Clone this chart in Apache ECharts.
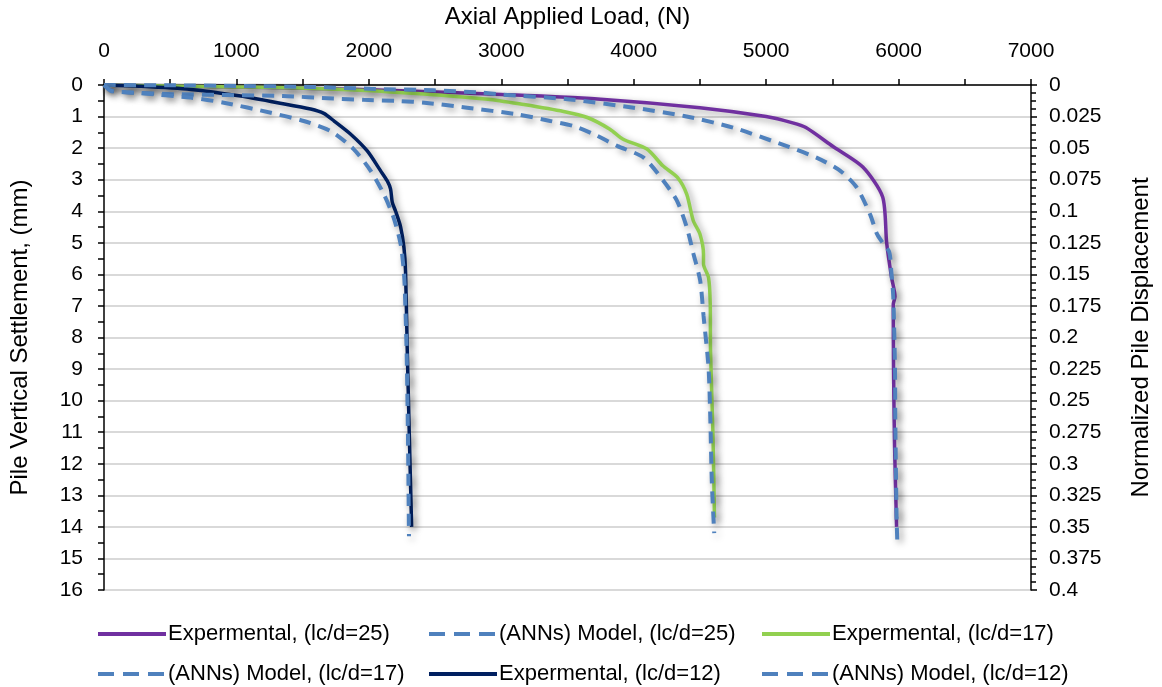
<!DOCTYPE html>
<html>
<head>
<meta charset="utf-8">
<script src="https://cdn.jsdelivr.net/npm/echarts@6/dist/echarts.min.js"></script>
<style>
html,body{margin:0;padding:0;background:#fff;}
#chart{width:1162px;height:687px;}
</style>
</head>
<body>
<div id="chart"></div>
<script>
// Data: [axial load (N), settlement (mm)]
const exp25 = [[0,0],[500,0.03],[1000,0.06],[1500,0.1],[2240,0.18],[3000,0.3],[3750,0.45],[4500,0.72],[5000,1.0],[5200,1.2],[5300,1.35],[5505,1.95],[5730,2.6],[5880,3.55],[5910,5.0],[5947,6.1],[5973,6.7],[5960,6.95],[5962,9.0],[5970,11.5],[5985,14.0]];
const ann25 = [[0,0],[500,0.01],[1000,0.03],[1560,0.06],[2010,0.12],[2490,0.17],[2840,0.24],[3000,0.3],[3500,0.45],[4000,0.72],[4380,0.98],[4750,1.35],[5130,1.9],[5380,2.3],[5560,2.72],[5685,3.25],[5785,4.1],[5835,4.7],[5880,5.0],[5930,5.3],[5945,5.9],[5960,6.7],[5973,9.0],[5975,10.5],[5985,13.7],[5990,14.4]];
const exp17 = [[0,0],[500,0.03],[1000,0.06],[1410,0.09],[2160,0.22],[2900,0.45],[3170,0.62],[3470,0.84],[3650,1.03],[3820,1.4],[3920,1.72],[4100,2.03],[4220,2.56],[4330,2.93],[4400,3.46],[4450,4.3],[4500,4.72],[4527,5.36],[4527,5.67],[4565,6.1],[4578,6.94],[4580,8.4],[4598,11.0],[4610,13.7]];
const ann17 = [[0,0],[60,0.18],[166,0.23],[520,0.29],[1350,0.35],[1735,0.43],[1960,0.47],[2240,0.51],[2420,0.56],[2742,0.72],[3120,0.93],[3370,1.14],[3545,1.3],[3700,1.56],[3875,1.93],[4075,2.3],[4225,3.04],[4327,3.67],[4400,4.5],[4452,5.36],[4502,6.2],[4527,7.3],[4565,8.95],[4578,10.5],[4590,12.6],[4608,14.2]];
const exp12 = [[0,0],[280,0.04],[656,0.14],[1033,0.35],[1310,0.56],[1560,0.76],[1660,0.9],[1740,1.15],[1863,1.56],[1988,2.09],[2089,2.72],[2139,3.04],[2164,3.3],[2177,3.72],[2202,4.0],[2240,4.5],[2265,5.15],[2277,5.9],[2290,8.4],[2305,11],[2323,14.0]];
const ann12 = [[0,0],[53,0.19],[166,0.23],[279,0.26],[656,0.4],[905,0.56],[1260,0.88],[1508,1.14],[1712,1.46],[1885,2.03],[2014,2.72],[2112,3.45],[2187,4.2],[2240,5.04],[2262,5.8],[2270,6.3],[2285,8.4],[2295,11.0],[2303,14.3]];

const seriesNames = ['Expermental, (lc/d=25)','(ANNs) Model, (lc/d=25)','Expermental, (lc/d=17)','(ANNs) Model, (lc/d=17)','Expermental, (lc/d=12)','(ANNs) Model, (lc/d=12)'];
const seriesData = [exp25, ann25, exp17, ann17, exp12, ann12];
const seriesColors = ['#7030A0','#4F81BD','#92D050','#4F81BD','#002060','#4F81BD'];
const seriesDashed = [false,true,false,true,false,true];

const FONT = 'Liberation Sans';
const chart = echarts.init(document.getElementById('chart'), null, {renderer:'canvas'});

const series = seriesNames.map((n,i)=>({
  name:n, type:'line', data:seriesData[i], symbol:'none', showSymbol:false, smooth:0.25,
  xAxisIndex:0, yAxisIndex:0, z: seriesDashed[i]?3:2,
  itemStyle:{color:seriesColors[i]},
  lineStyle:{color:seriesColors[i], width: seriesDashed[i]?4:3.5,
    type: seriesDashed[i]?[12,8]:'solid',
    shadowColor:'rgba(0,0,0,0.4)', shadowBlur:7, shadowOffsetX:3, shadowOffsetY:3}
}));
// empty series bound to the right axis so it is drawn
series.push({type:'line', yAxisIndex:1, data:[], silent:true});

const legendPos = [[91,618],[422,618],[755,618],[91,658],[422,658],[755,658]];
const legends = seriesNames.map((n,i)=>({
  data:[n],
  left:legendPos[i][0], top:legendPos[i][1],
  itemWidth:68, itemHeight:22, itemGap:0,
  selectedMode:false,
  textStyle:{fontFamily:FONT, fontSize:22, color:'#000', padding:[0,0,0,-3]},
  itemStyle:{color:'rgba(0,0,0,0)', borderWidth:0, opacity:0},
  lineStyle:{width:4, type: seriesDashed[i]?[16,9]:'solid', color:seriesColors[i],
    shadowBlur:0, shadowOffsetX:0, shadowOffsetY:0}
}));

chart.setOption({
  animation:false,
  backgroundColor:'#fff',
  grid:{left:103, right:131, top:84, bottom:97, containLabel:false},
  legend:legends,
  xAxis:{type:'value', position:'top', min:0, max:7000, interval:1000,
    name:'Axial Applied Load, (N)', nameLocation:'middle', nameGap:56,
    nameTextStyle:{fontFamily:FONT, fontSize:24, color:'#000'},
    axisLine:{show:true, lineStyle:{color:'#000', width:1.5}},
    axisTick:{show:true, length:6, lineStyle:{color:'#000', width:1.5}},
    minorTick:{show:true, splitNumber:2, length:6, lineStyle:{color:'#000', width:1.5}},
    axisLabel:{fontFamily:FONT, fontSize:21, color:'#000', margin:23, formatter:v=>String(v)},
    splitLine:{show:false}},
  yAxis:[
    {type:'value', inverse:true, min:0, max:16, interval:1, position:'left',
     name:'Pile Vertical Settlement, (mm)', nameLocation:'middle', nameGap:72, nameRotate:90,
     nameTextStyle:{fontFamily:FONT, fontSize:24, color:'#000'},
     axisLine:{show:true, lineStyle:{color:'#000', width:1.5}},
     axisTick:{show:true, length:6, lineStyle:{color:'#000', width:1.5}},
     minorTick:{show:true, splitNumber:2, length:6, lineStyle:{color:'#000', width:1.5}},
     axisLabel:{fontFamily:FONT, fontSize:21, color:'#000', margin:21},
     splitLine:{show:true, lineStyle:{color:'#d9d9d9', width:2}}},
    {type:'value', inverse:true, min:0, max:0.4, interval:0.025, position:'right',
     name:'Normalized Pile Displacement', nameLocation:'middle', nameGap:98, nameRotate:90,
     nameTextStyle:{fontFamily:FONT, fontSize:24, color:'#000'},
     axisLine:{show:true, lineStyle:{color:'#000', width:1.5}},
     axisTick:{show:true, length:6, lineStyle:{color:'#000', width:1.5}},
     minorTick:{show:true, splitNumber:4, length:5, lineStyle:{color:'#000', width:1.5}},
     axisLabel:{fontFamily:FONT, fontSize:21, color:'#000', margin:18,
       formatter:v=>String(parseFloat(v.toFixed(3)))},
     splitLine:{show:false}}
  ],
  series:series
});
</script>
</body>
</html>
